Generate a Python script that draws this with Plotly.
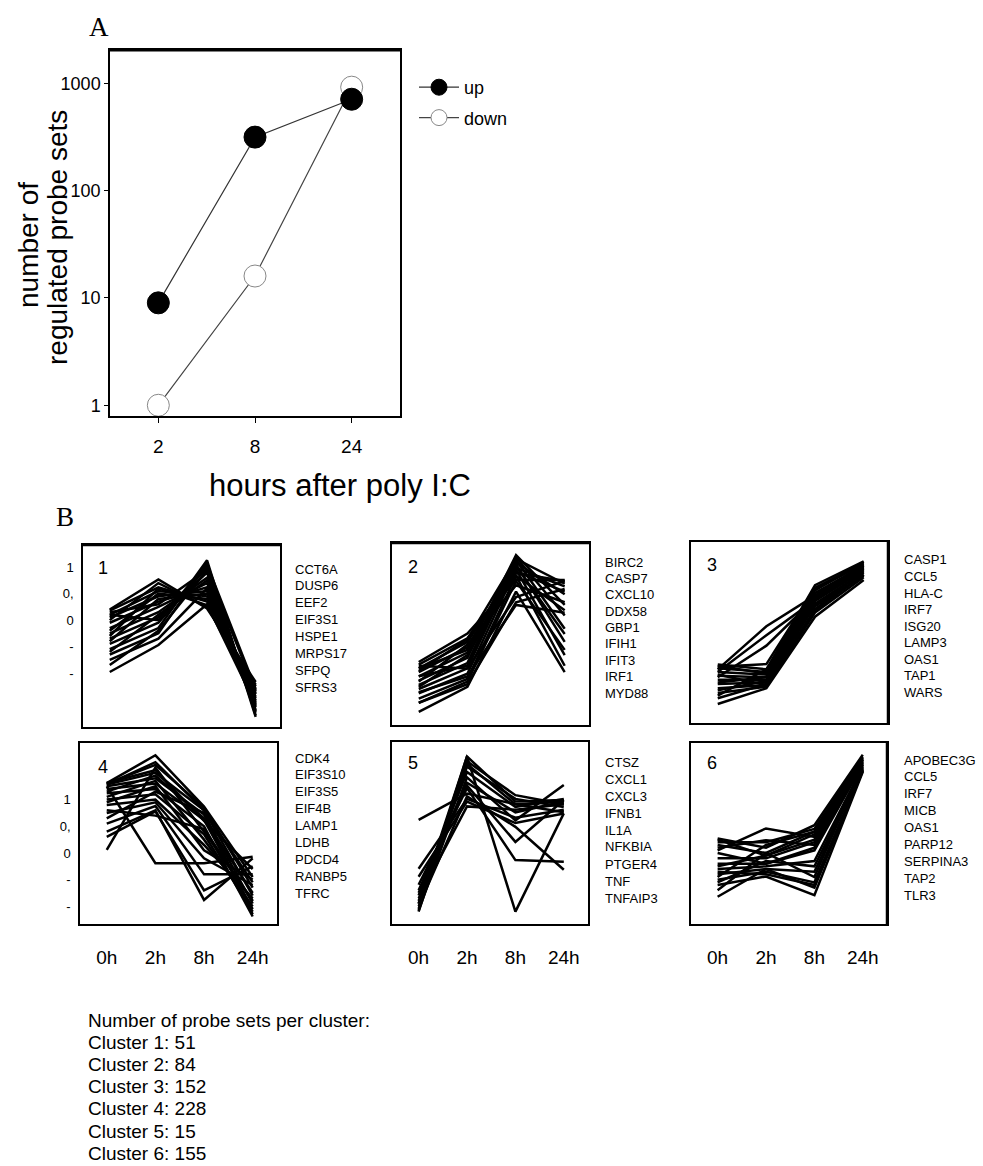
import plotly.graph_objects as go

W, H = 983, 1166

# ---------------- data: panel A ----------------
hours_A = ["2", "8", "24"]
up_counts = [9, 315, 710]
down_counts = [1, 16, 920]
yticks_A = [1, 10, 100, 1000]

# ---------------- data: panel B ----------------
timepoints = ["0h", "2h", "8h", "24h"]
tick_vals_B = [1, 0.5, 0, -0.5, -1]
tick_text_B = ["1", "0,", "0", "-", "-"]

cluster1 = [
    [0.20, 0.77, 0.22, -1.17],
    [0.18, 0.62, 0.35, -1.25],
    [0.10, 0.55, 0.45, -1.32],
    [0.05, 0.45, 0.55, -1.40],
    [-0.05, 0.35, 0.62, -1.45],
    [-0.15, 0.25, 0.70, -1.52],
    [-0.25, 0.15, 0.80, -1.58],
    [-0.35, 0.05, 0.90, -1.65],
    [-0.45, -0.05, 1.00, -1.72],
    [-0.55, -0.15, 1.13, -1.80],
    [-0.65, -0.25, 1.08, -1.83],
    [-0.75, -0.35, 0.60, -1.70],
    [-0.98, -0.47, 0.30, -1.60],
    [0.15, 0.30, 0.95, -1.35],
    [-0.30, 0.60, 0.28, -1.48],
    [0.00, 0.70, 0.25, -1.22],
    [-0.20, 0.50, 0.40, -1.38],
    [-0.40, 0.40, 0.50, -1.55],
    [-0.60, 0.10, 0.75, -1.62],
    [-0.85, -0.20, 0.95, -1.75],
    [0.10, 0.00, 1.05, -1.30],
]
cluster2 = [
    [-0.83, -0.29, 0.72, 0.72],
    [-0.88, -0.38, 0.85, 0.70],
    [-0.95, -0.45, 0.95, 0.60],
    [-1.02, -0.55, 1.05, 0.45],
    [-1.10, -0.65, 1.19, 0.25],
    [-1.18, -0.75, 1.15, 0.05],
    [-1.26, -0.85, 1.10, -0.20],
    [-1.34, -0.95, 1.02, -0.45],
    [-1.42, -1.05, 0.92, -0.70],
    [-1.52, -1.15, 0.80, -0.90],
    [-1.77, -1.30, 0.50, -1.02],
    [-1.60, -1.25, 0.30, 0.55],
    [-0.90, -0.95, 0.40, 0.70],
    [-1.20, -0.50, 0.62, 0.30],
    [-1.40, -1.10, 0.25, 0.10],
    [-1.00, -0.40, 1.12, 0.65],
    [-1.30, -0.70, 0.88, 0.50],
    [-1.60, -1.20, 0.70, -0.60],
    [-1.10, -0.90, 0.98, -0.30],
    [-0.95, -0.60, 0.80, 0.15],
]
cluster3 = [
    [-0.91, -1.00, 0.60, 1.05],
    [-0.98, -1.05, 0.52, 1.00],
    [-1.05, -1.10, 0.45, 0.97],
    [-1.12, -1.15, 0.38, 0.93],
    [-1.20, -1.20, 0.30, 0.88],
    [-1.28, -1.25, 0.22, 0.84],
    [-1.36, -1.30, 0.15, 0.80],
    [-1.45, -1.33, 0.08, 0.75],
    [-1.66, -1.36, 0.00, 0.70],
    [-1.00, -0.18, 0.40, 0.98],
    [-1.05, -0.35, 0.32, 0.92],
    [-1.15, -0.55, 0.35, 0.90],
    [-0.95, -0.90, 0.55, 1.02],
    [-1.50, -1.00, 0.20, 0.78],
    [-0.93, -1.08, 0.50, 1.04],
    [-1.25, -1.15, 0.40, 0.95],
    [-1.40, -1.22, 0.25, 0.85],
    [-1.10, -1.30, 0.12, 0.80],
    [-1.55, -1.28, 0.35, 0.92],
]
cluster4 = [
    [1.31, 1.83, 0.87, -0.45],
    [1.30, 1.65, 0.85, -0.65],
    [1.28, 1.50, 0.80, -0.80],
    [1.25, 1.40, 0.72, -0.95],
    [1.20, 1.30, 0.62, -1.05],
    [1.12, 1.20, 0.50, -1.19],
    [1.00, 1.10, 0.35, -1.10],
    [0.90, 1.00, 0.15, -0.85],
    [0.75, 0.95, -0.10, -0.60],
    [0.55, 0.88, -0.40, -0.40],
    [0.40, 0.80, -0.88, -0.10],
    [1.25, -0.19, -0.19, -0.07],
    [0.06, 1.60, 0.40, -0.90],
    [0.30, 0.78, -0.70, -0.25],
    [1.31, 1.55, 0.60, -0.30],
    [0.80, 0.70, 0.45, -0.90],
    [1.28, 1.70, 0.80, -0.55],
    [1.15, 1.45, 0.65, -0.75],
    [1.05, 1.35, 0.25, -1.00],
    [0.95, 1.25, 0.05, -0.50],
    [0.65, 1.15, 0.75, -1.15],
]
cluster5 = [
    [0.61, 1.10, 0.90, 0.95],
    [-0.95, 1.79, -1.10, 0.73],
    [-1.05, 1.79, 0.95, 0.98],
    [-0.95, 1.70, 1.07, 0.90],
    [-0.90, 1.60, 1.00, 0.85],
    [-0.80, 1.50, 0.85, 1.00],
    [-1.08, 1.40, 0.60, 1.26],
    [-0.70, 1.30, 0.75, 0.95],
    [-0.60, 1.20, -0.14, -0.17],
    [-1.00, 1.05, 0.48, -0.32],
    [-0.45, 0.95, 0.55, 0.73],
    [-0.85, 0.86, 0.80, 0.90],
    [-0.30, 1.00, 0.65, 0.80],
    [-0.75, 1.25, 0.20, 0.98],
    [-1.10, 1.65, 0.90, 0.75],
]
cluster6 = [
    [0.27, 0.10, 0.52, 1.84],
    [0.20, 0.20, 0.45, 1.80],
    [0.05, 0.46, 0.30, 1.76],
    [0.25, -0.05, 0.35, 1.72],
    [-0.10, -0.10, 0.20, 1.70],
    [-0.20, -0.20, 0.05, 1.66],
    [-0.30, -0.25, -0.15, 1.62],
    [-0.40, -0.30, -0.35, 1.60],
    [-0.50, -0.35, -0.55, 1.56],
    [-0.60, -0.44, -0.79, 1.52],
    [-0.82, -0.30, -0.65, 1.55],
    [-0.70, 0.00, -0.45, 1.65],
    [0.10, 0.24, 0.15, 1.78],
    [-0.45, 0.15, 0.40, 1.74],
    [0.15, 0.00, 0.40, 1.70],
    [-0.25, -0.05, 0.25, 1.75],
    [-0.55, -0.15, -0.25, 1.58],
    [-0.35, -0.40, -0.60, 1.54],
    [0.00, -0.20, 0.10, 1.68],
]

genes1 = ["CCT6A", "DUSP6", "EEF2", "EIF3S1", "HSPE1", "MRPS17", "SFPQ", "SFRS3"]
genes2 = ["BIRC2", "CASP7", "CXCL10", "DDX58", "GBP1", "IFIH1", "IFIT3", "IRF1", "MYD88"]
genes3 = ["CASP1", "CCL5", "HLA-C", "IRF7", "ISG20", "LAMP3", "OAS1", "TAP1", "WARS"]
genes4 = ["CDK4", "EIF3S10", "EIF3S5", "EIF4B", "LAMP1", "LDHB", "PDCD4", "RANBP5", "TFRC"]
genes5 = ["CTSZ", "CXCL1", "CXCL3", "IFNB1", "IL1A", "NFKBIA", "PTGER4", "TNF", "TNFAIP3"]
genes6 = ["APOBEC3G", "CCL5", "IRF7", "MICB", "OAS1", "PARP12", "SERPINA3", "TAP2", "TLR3"]

cluster_sizes = [51, 84, 152, 228, 15, 155]

# ---------------- layout helpers ----------------
SANS = "Liberation Sans, Arial, sans-serif"
SERIF = "Liberation Serif, Times New Roman, serif"


def xd(l, r):
    return [l / W, r / W]


def yd(t, b):
    return [1 - b / H, 1 - t / H]


def px(x):
    return x / W


def py(y):
    return 1 - y / H


def note(x, y, text, size, family=SANS, xanchor="center", angle=0):
    return dict(x=px(x), y=py(y), xref="paper", yref="paper", text=text,
                showarrow=False, xanchor=xanchor, yanchor="middle",
                textangle=angle, font=dict(family=family, size=size, color="black"))


fig = go.Figure()

# ---------------- panel A ----------------
fig.add_trace(go.Scatter(
    x=hours_A, y=down_counts, name="down", mode="lines+markers",
    line=dict(color="#444444", width=1.2),
    marker=dict(size=22, color="white", line=dict(color="#888888", width=1)),
    xaxis="x", yaxis="y", legendrank=2, legendgroup="down", hoverinfo="skip"))
fig.add_trace(go.Scatter(
    x=hours_A, y=up_counts, name="up", mode="lines+markers",
    line=dict(color="#333333", width=1.2),
    marker=dict(size=22, color="black", line=dict(color="black", width=1)),
    xaxis="x", yaxis="y", legendrank=1, legendgroup="up", hoverinfo="skip"))

layout_axes = {}
layout_axes["xaxis"] = dict(
    domain=xd(110, 400), anchor="y", type="category", range=[-0.5, 2.5],
    showline=True, mirror=True, linecolor="black", linewidth=1.5,
    ticks="outside", ticklen=5, tickcolor="black", showgrid=False, zeroline=False,
    tickfont=dict(family=SANS, size=19, color="black"), ticklabelstandoff=7)
layout_axes["yaxis"] = dict(
    domain=yd(50, 416), anchor="x", type="log", range=[-0.10, 3.31],
    tickvals=yticks_A, ticktext=[str(v) for v in yticks_A],
    showline=True, mirror=True, linecolor="black", linewidth=1.5,
    ticks="outside", ticklen=4, tickcolor="black", showgrid=False, zeroline=False,
    tickfont=dict(family=SANS, size=18, color="black"), ticklabelstandoff=0)

# ---------------- panel B ----------------
clusters = [cluster1, cluster2, cluster3, cluster4, cluster5, cluster6]
gene_lists = [genes1, genes2, genes3, genes4, genes5, genes6]
boxes = [  # left, right, top, bottom in pixels
    (83, 280, 545, 727),
    (392, 589, 543, 725),
    (691, 888, 542, 723),
    (80, 277, 743, 924),
    (392, 588, 742, 924),
    (691, 887, 743, 924),
]
row_ranges = [[-2.02, 1.42]] * 3 + [[-1.33, 2.06]] * 3
gene_pos = [  # x, first y, last y
    (293, 569, 687),
    (603, 562, 693),
    (902, 560, 692),
    (293, 758, 893),
    (603, 762, 898),
    (902, 760, 895),
]
num_pos = [(103, 568), (413, 567), (712, 565), (103, 767), (413, 763), (712, 763)]

annotations = []
shapes = []

for i, (lines, box) in enumerate(zip(clusters, boxes)):
    k = i + 2
    xa, ya = f"x{k}", f"y{k}"
    for vals in lines:
        fig.add_trace(go.Scatter(
            x=timepoints, y=vals, mode="lines",
            line=dict(color="black", width=2.5),
            xaxis=xa, yaxis=ya, showlegend=False, hoverinfo="skip"))
    l, r, t, b = box
    bottom_row = i >= 3
    first_col = i in (0, 3)
    layout_axes[f"xaxis{k}"] = dict(
        domain=xd(l, r), anchor=ya, type="category",
        categoryorder="array", categoryarray=timepoints,
        range=[-0.55, 3.5], showline=True, mirror=True,
        linecolor="black", linewidth=1.5, showgrid=False, zeroline=False,
        ticks="", showticklabels=bottom_row,
        tickfont=dict(family=SANS, size=19, color="black"),
        ticklabelstandoff=15)
    layout_axes[f"yaxis{k}"] = dict(
        domain=yd(t, b), anchor=xa, range=row_ranges[i],
        showline=True, mirror=True, linecolor="black", linewidth=1.5,
        showgrid=False, zeroline=False, ticks="",
        showticklabels=first_col, tickvals=tick_vals_B, ticktext=tick_text_B,
        tickfont=dict(family=SANS, size=13, color="black"),
        ticklabelstandoff=5)
    nx, ny = num_pos[i]
    annotations.append(note(nx, ny, str(i + 1), 18))
    gx, g0, g1 = gene_pos[i]
    genes = gene_lists[i]
    step = (g1 - g0) / (len(genes) - 1)
    for j, g in enumerate(genes):
        annotations.append(note(gx, g0 + j * step, g, 13, xanchor="left"))

# thicker frame edges seen in the original scan
shapes.append(dict(type="line", xref="x domain", yref="y domain",
                   x0=0, x1=1, y0=1, y1=1, line=dict(color="black", width=3)))
for k in (2, 3):
    shapes.append(dict(type="line", xref=f"x{k} domain", yref=f"y{k} domain",
                       x0=0, x1=1, y0=1, y1=1, line=dict(color="black", width=2.5)))
for k in (4, 7):
    shapes.append(dict(type="line", xref=f"x{k} domain", yref=f"y{k} domain",
                       x0=1, x1=1, y0=0, y1=1, line=dict(color="black", width=2.5)))

# ---------------- text annotations ----------------
annotations += [
    note(99, 27, "A", 27, family=SERIF),
    note(65, 517, "B", 27, family=SERIF),
    note(29, 245, "number of", 28, angle=-90),
    note(57, 238, "regulated probe sets", 28, angle=-90),
    note(340, 485, "hours after poly I:C", 31),
]

summary_lines = ["Number of probe sets per cluster:"] + [
    f"Cluster {i + 1}: {n}" for i, n in enumerate(cluster_sizes)]
for j, s in enumerate(summary_lines):
    annotations.append(note(86, 1020 + j * 22.2, s, 19, xanchor="left"))

fig.update_layout(
    width=W, height=H, margin=dict(l=0, r=0, t=0, b=0),
    paper_bgcolor="white", plot_bgcolor="white",
    font=dict(family=SANS, color="black"),
    showlegend=True,
    legend=dict(x=px(414), y=py(69), xanchor="left", yanchor="top",
                font=dict(family=SANS, size=18, color="black"),
                traceorder="grouped", tracegroupgap=4, itemwidth=40,
                itemsizing="trace", bgcolor="rgba(0,0,0,0)"),
    annotations=annotations, shapes=shapes,
    **layout_axes,
)

fig.write_html("out.html", config={"displayModeBar": False},
               post_script="document.body.style.margin='0';")
